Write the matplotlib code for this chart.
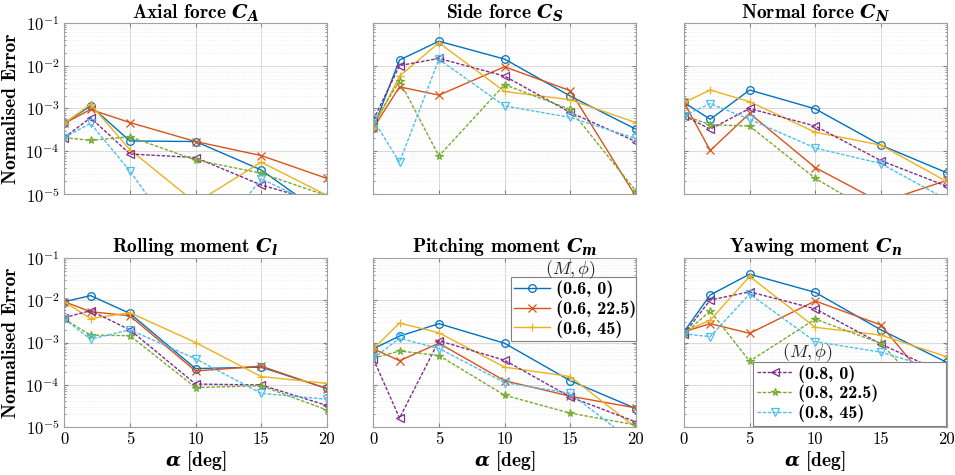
import matplotlib
matplotlib.use("Agg")
import matplotlib.pyplot as plt
import numpy as np
from matplotlib.ticker import LogLocator, NullFormatter, FixedLocator

rc = plt.rcParams
rc['mathtext.fontset'] = 'custom'
rc['mathtext.rm'] = 'cmr10'
rc['mathtext.it'] = 'cmmi10'
rc['mathtext.bf'] = 'cmb10'
if 'mathtext.bfit' in rc:
    rc['mathtext.bfit'] = 'DejaVu Serif:italic:bold'
    BF = r'\mathbfit'
else:
    BF = r'\mathbf'
rc['mathtext.fallback'] = 'cm'
rc['axes.unicode_minus'] = True

alpha = [0, 2, 5, 10, 15, 20]
series_labels = ['(0.6, 0)', '(0.6, 22.5)', '(0.6, 45)', '(0.8, 0)', '(0.8, 22.5)', '(0.8, 45)']
colors = ['#0072BD', '#D95319', '#EDB120', '#7E2F8E', '#77AC30', '#4DBEEE']
markers = ['o', 'x', '+', '<', '*', 'v']
styles = ['-', '-', '-', (0, (2.5, 1.2)), (0, (2.5, 1.2)), (0, (2.5, 1.2))]

titles = ['Axial force', 'Side force', 'Normal force',
          'Rolling moment', 'Pitching moment', 'Yawing moment']
subs = ['C_A', 'C_S', 'C_N', 'C_l', 'C_m', 'C_n']

CA = [
    [4.5e-4, 1.15e-3, 1.75e-4, 1.7e-4, 3.7e-5, 3e-6],
    [4.5e-4, 9.5e-4, 4.7e-4, 1.7e-4, 8e-5, 2.35e-5],
    [4.5e-4, 1.25e-3, 1.1e-4, 6.3e-6, 5.6e-5, 9.5e-6],
    [2.1e-4, 6.1e-4, 8.7e-5, 7.2e-5, 1.65e-5, 6e-6],
    [2.1e-4, 1.8e-4, 2.2e-4, 6.3e-5, 3.1e-5, 9.3e-6],
    [2.1e-4, 4.5e-4, 3.5e-5, 2.5e-7, 2.3e-5, 4.3e-6],
]
CS = [
    [3.5e-4, 1.35e-2, 3.7e-2, 1.42e-2, 1.95e-3, 3.3e-4],
    [3.5e-4, 3.2e-3, 2.05e-3, 9.4e-3, 2.6e-3, 9e-6],
    [3.5e-4, 5.7e-3, 3.4e-2, 2.5e-3, 1.6e-3, 4.7e-4],
    [5.4e-4, 1.0e-2, 1.47e-2, 5.7e-3, 8.1e-4, 1.7e-4],
    [4.5e-4, 4.4e-3, 7.8e-5, 3.6e-3, 9.5e-4, 1.2e-5],
    [5.4e-4, 5.6e-5, 1.4e-2, 1.15e-3, 6.2e-4, 2.0e-4],
]
CN = [
    [1.38e-3, 5.6e-4, 2.7e-3, 9.8e-4, 1.4e-4, 3.2e-5],
    [1.38e-3, 1.05e-4, 7.7e-4, 4.2e-5, 6.5e-6, 2.1e-5],
    [1.38e-3, 2.7e-3, 1.44e-3, 2.8e-4, 1.4e-4, 2.0e-5],
    [6.8e-4, 3.3e-4, 1.0e-3, 3.9e-4, 6.1e-5, 1.55e-5],
    [6.8e-4, 4.2e-4, 3.9e-4, 2.35e-5, 3e-6, 1e-6],
    [6.8e-4, 1.3e-3, 5.6e-4, 1.2e-4, 5.2e-5, 7.6e-6],
]
Cl = [
    [9.3e-3, 1.3e-2, 4.9e-3, 2.4e-4, 2.6e-4, 8.1e-5],
    [9.3e-3, 5.4e-3, 4.3e-3, 2.1e-4, 2.75e-4, 8e-5],
    [9.3e-3, 3.7e-3, 5.1e-3, 1.0e-3, 1.55e-4, 1.07e-4],
    [3.9e-3, 5.7e-3, 2.0e-3, 1.03e-4, 9.8e-5, 3.2e-5],
    [3.6e-3, 1.5e-3, 1.45e-3, 8.5e-5, 9.4e-5, 2.5e-5],
    [3.6e-3, 1.2e-3, 2.0e-3, 4.1e-4, 6.2e-5, 4.5e-5],
]
Cm = [
    [7.1e-4, 1.42e-3, 2.8e-3, 9.6e-4, 1.24e-4, 2.7e-5],
    [7.1e-4, 3.7e-4, 9.6e-4, 1.24e-4, 5.3e-5, 2.8e-5],
    [7.1e-4, 2.9e-3, 1.7e-3, 2.6e-4, 1.55e-4, 9.6e-6],
    [4.1e-4, 1.6e-5, 1.1e-3, 3.8e-4, 5.1e-5, 1.3e-5],
    [4.2e-4, 6.3e-4, 4.9e-4, 5.6e-5, 2.1e-5, 1.1e-5],
    [4.2e-4, 1.26e-3, 7.2e-4, 1.12e-4, 6.2e-5, 3.9e-6],
]
Cn = [
    [1.8e-3, 1.35e-2, 4.2e-2, 1.55e-2, 2.0e-3, 3.4e-4],
    [1.8e-3, 2.8e-3, 1.65e-3, 9.7e-3, 2.6e-3, 3.5e-5],
    [1.8e-3, 3.4e-3, 3.7e-2, 2.3e-3, 1.5e-3, 4.6e-4],
    [1.6e-3, 1.02e-2, 1.6e-2, 6.3e-3, 9.2e-4, 1.75e-4],
    [1.6e-3, 5.6e-3, 3.6e-4, 3.6e-3, 9.5e-4, 2.1e-5],
    [1.6e-3, 1.38e-3, 1.42e-2, 1.05e-3, 5.9e-4, 2.0e-4],
]
data = [CA, CS, CN, Cl, Cm, Cn]

fig = plt.figure(figsize=(9.55, 4.75), dpi=100)
W, H = 955.0, 475.0
lefts = [64.3, 373.3, 684.0]
width = 262.5
rows = [(22.7, 194.3), (258.3, 426.7)]

axes = []
for i in range(6):
    r, c = divmod(i, 3)
    top, bot = rows[r]
    ax = fig.add_axes([lefts[c] / W, 1 - bot / H, width / W, (bot - top) / H])
    axes.append(ax)
    for k in range(6):
        ax.plot(alpha, data[i][k], color=colors[k], marker=markers[k],
                linestyle=styles[k], linewidth=1.0, markersize=5.5,
                markerfacecolor='none', markeredgewidth=0.9,
                label=series_labels[k], clip_on=True)
    ax.set_yscale('log')
    ax.set_ylim(1e-5, 1e-1)
    ax.set_xlim(0, 20)
    ax.xaxis.set_major_locator(FixedLocator([0, 5, 10, 15, 20]))
    ax.yaxis.set_major_locator(LogLocator(base=10, numticks=10))
    ax.yaxis.set_minor_locator(LogLocator(base=10, subs=np.arange(2, 10), numticks=20))
    ax.yaxis.set_minor_formatter(NullFormatter())
    ax.grid(True, which='major', color='#d9d9d9', linewidth=0.7)
    ax.grid(True, which='minor', axis='y', color='#e6e6e6', linewidth=0.5, linestyle=':')
    ax.set_axisbelow(True)
    for s in ax.spines.values():
        s.set_color('#a0a0a0')
        s.set_linewidth(0.8)
    ax.tick_params(which='both', direction='in', top=True, right=True,
                   color='#808080', labelsize=12)
    ax.tick_params(which='major', length=3)
    ax.tick_params(which='minor', length=1.5)
    ax.set_title(titles[i] + ' ' + r'$' + BF + '{' + subs[i] + '}$',
                 fontfamily='cmb10', fontsize=14, pad=3)
    if c != 0:
        ax.tick_params(labelleft=False)
    else:
        ax.set_ylabel('Normalised Error', fontfamily='cmb10', fontsize=14, labelpad=4)
    if r == 0:
        ax.tick_params(labelbottom=False)
    else:
        ax.set_xlabel(r'$' + BF + r'{\alpha}$' + ' [deg]', fontfamily='cmb10', fontsize=14, labelpad=2)
    for lab in ax.get_xticklabels() + ax.get_yticklabels():
        lab.set_fontfamily('cmr10')

# legends
def add_legend(ax, handles, labels, box, title_xy):
    x0, y0, x1, y1 = box
    leg = ax.legend(handles, labels, loc='upper left',
                    bbox_to_anchor=(x0 / W, 1 - y1 / H, (x1 - x0) / W, (y1 - y0) / H),
                    bbox_transform=fig.transFigure, mode='expand',
                    prop={'family': 'cmb10', 'size': 13}, frameon=True,
                    fancybox=False, edgecolor='#808080', framealpha=1,
                    handlelength=2.0, handletextpad=0.3, borderpad=0.2,
                    labelspacing=0.12, borderaxespad=0)
    leg.get_frame().set_linewidth(0.8)
    fig.text(title_xy[0] / W, 1 - title_xy[1] / H, r'$(M,\phi)$', ha='center',
             va='center', fontsize=13, color='#262626')

ax = axes[4]
h, l = ax.get_legend_handles_labels()
add_legend(ax, h[:3], l[:3], (510.7, 277.3, 636.0, 339.0), (570, 270))
ax = axes[5]
h, l = ax.get_legend_handles_labels()
add_legend(ax, h[3:], l[3:], (753.0, 361.7, 946.0, 422.7), (807, 353))

fig.savefig('out.png', dpi=100)
